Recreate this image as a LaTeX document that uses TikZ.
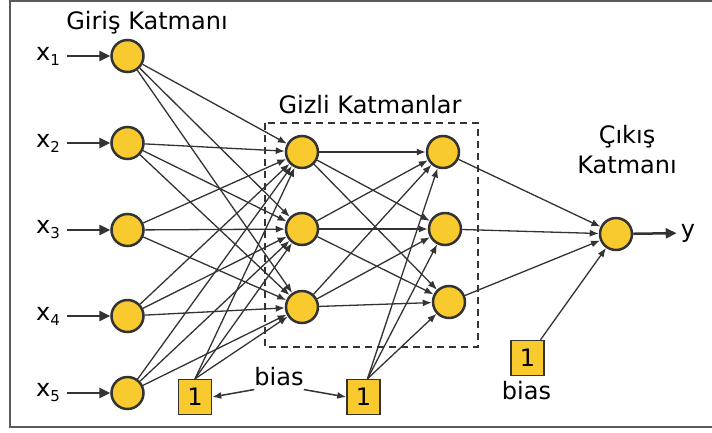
\documentclass[tikz,border=0pt]{standalone}
\usepackage{fontspec}
\setmainfont{DejaVu Sans}
\usetikzlibrary{arrows.meta}
\definecolor{neuronfill}{RGB}{248,202,46}
\definecolor{ink}{RGB}{51,51,51}
\definecolor{framegray}{RGB}{90,90,90}
\begin{document}
\begin{tikzpicture}[x=1pt,y=-1pt,
  neuron/.style={circle,draw=ink,fill=neuronfill,line width=2.5pt,minimum size=32pt,inner sep=0pt},
  biasbox/.style={rectangle,draw=ink,fill=neuronfill,line width=1.5pt,minimum width=33pt,minimum height=35pt,inner sep=0pt,font=\fontsize{24}{28}\selectfont},
  lbl/.style={font=\fontsize{24}{30}\selectfont,inner sep=0pt},
  wire/.style={draw=ink,line width=1.3pt,-{Latex[length=9pt,width=7pt]}},
  feed/.style={draw=ink,line width=2.5pt,-{Triangle[length=11pt,width=10pt]}},
  pointer/.style={draw=ink,line width=1.5pt,-{Latex[length=9pt,width=7pt]}},
]
\useasboundingbox (0,0) rectangle (712,432);
% outer frame
\draw[framegray,line width=1.5pt] (10,1) rectangle (716,427);

% hidden-layer enclosure
\draw[ink,line width=1.5pt,dash pattern=on 7pt off 5pt] (265,123) rectangle (478,347);

% layer titles
\node[lbl,anchor=base] (tin) at (147,29) {Giriş Katmanı};
\node[lbl,anchor=base] (thid) at (370,113) {Gizli Katmanlar};
\node[lbl,align=center,anchor=base] (tout) at (627,173) {Çıkış\\Katmanı};

% input layer
\foreach \i/\y in {1/56,2/143,3/230,4/316,5/393}{
  \node[neuron] (i\i) at (127.5,\y) {};
  \node[lbl] (x\i) at (48,\y) {x\raisebox{-5pt}{\fontsize{15}{15}\selectfont \i}};
  \draw[feed] ([xshift=7pt]x\i.east) -- (i\i);
}

% hidden layers
\node[neuron] (ha1) at (302,152) {};
\node[neuron] (ha2) at (302,229) {};
\node[neuron] (ha3) at (302,307) {};
\node[neuron] (hb1) at (443,152) {};
\node[neuron] (hb2) at (445,229) {};
\node[neuron] (hb3) at (449,302) {};

% output layer
\node[neuron] (o) at (616,234) {};
\node[lbl,inner sep=4pt] (ylab) at (688,233) {y};
\draw[feed] (o) -- (ylab);

% bias units
\node[biasbox] (b1) at (195,397) {1};
\node[biasbox] (b2) at (363.5,397) {1};
\node[biasbox] (b3) at (527.5,358) {1};
\node[lbl,anchor=base] (bl) at (279,385) {bias};
\node[lbl,anchor=base] (bl3) at (526.5,399) {bias};
\draw[pointer] (bl.south west) ++(0,-4pt) coordinate (bla) (bla) -- (b1.east);
\draw[pointer] (bl.south east) ++(0,-4pt) coordinate (blb) (blb) -- (b2.west);

% connections
\foreach \i in {1,...,5}{
  \foreach \j in {1,2,3}{
    \draw[wire] (i\i) -- (ha\j);
  }
}
\foreach \j in {1,2,3}{
  \draw[wire] (b1.north) -- (ha\j);
  \draw[wire] ([xshift=4pt]b2.north) -- (hb\j);
  \foreach \k in {1,2,3}{
    \draw[wire] (ha\j) -- (hb\k);
  }
  \draw[wire] (hb\j) -- (o);
}
\draw[wire] (b3) -- (o);
\end{tikzpicture}
\end{document}
